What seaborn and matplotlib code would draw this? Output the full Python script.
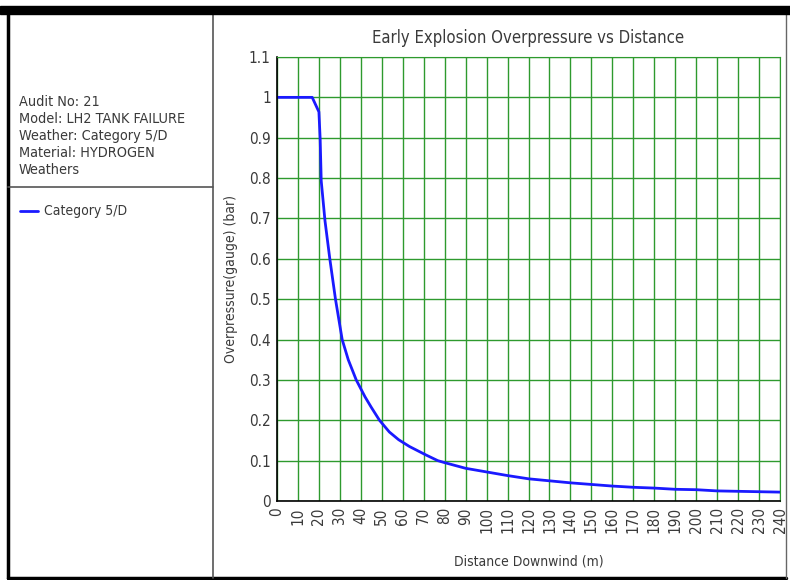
import numpy as np
import pandas as pd
import seaborn as sns
import matplotlib.pyplot as plt
from matplotlib.lines import Line2D
from matplotlib.patches import Rectangle
from matplotlib import font_manager

# values
distance = [0, 16.8, 20, 20.6, 21.1, 22.9, 25.2, 27.9, 31.1, 34, 37.8, 42, 45,
            48.9, 53.6, 58, 63.2, 71.1, 76.7, 80, 90, 100, 110, 120, 130, 140, 150,
            160, 170, 180, 190, 200, 210, 220, 230, 240]
overpressure = [1.0, 1.0, 0.964, 0.896, 0.793, 0.694, 0.6, 0.5, 0.4, 0.35, 0.3,
                0.258, 0.232, 0.2, 0.171, 0.152, 0.135, 0.114, 0.1,
                0.095, 0.081, 0.072, 0.063, 0.055, 0.050, 0.045, 0.041, 0.037, 0.034,
                0.032, 0.029, 0.028, 0.025, 0.024, 0.023, 0.022]
x_ticks = list(range(0, 241, 10))
y_ticks = [0, 0.1, 0.2, 0.3, 0.4, 0.5, 0.6, 0.7, 0.8, 0.9, 1, 1.1]
y_tick_labels = ["0", "0.1", "0.2", "0.3", "0.4", "0.5", "0.6", "0.7", "0.8", "0.9", "1", "1.1"]
info_lines = ["Audit No: 21", "Model: LH2 TANK FAILURE", "Weather: Category 5/D",
              "Material: HYDROGEN", "Weathers"]
series_name = "Category 5/D"

df = pd.DataFrame({"Distance": distance, "Overpressure": overpressure})

sns.set_style("white")
names = {f.name for f in font_manager.fontManager.ttflist}
if "Liberation Sans Narrow" in names:
    plt.rcParams['font.family'] = ['Liberation Sans Narrow', 'DejaVu Sans']
else:
    plt.rcParams['font.family'] = ['DejaVu Sans']
    plt.rcParams['font.stretch'] = 'condensed'

W, H = 790, 580
fig = plt.figure(figsize=(W / 100, H / 100), dpi=100)

def fx(px):
    return px / W

def fy(py):
    return 1 - py / H

grey = "#3a3a3a"
green = "#2e9a2e"
blue = "#1a1aff"

# outer frame and left panel
fig.patches.append(Rectangle((fx(0), fy(14)), 1, fy(6) - fy(14), transform=fig.transFigure,
                             color="black", zorder=5))
fig.lines.append(Line2D([fx(8), fx(8)], [fy(14), fy(578)], transform=fig.transFigure,
                        color="black", lw=2.5))
fig.lines.append(Line2D([fx(8), fx(786)], [fy(578), fy(578)], transform=fig.transFigure,
                        color="black", lw=2.5))
fig.lines.append(Line2D([fx(786), fx(786)], [fy(14), fy(578)], transform=fig.transFigure,
                        color="#666666", lw=1))
fig.lines.append(Line2D([fx(213), fx(213)], [fy(14), fy(578)], transform=fig.transFigure,
                        color="#555555", lw=1.2))
fig.lines.append(Line2D([fx(8), fx(213)], [fy(187), fy(187)], transform=fig.transFigure,
                        color="#555555", lw=1.2))

for i, line in enumerate(info_lines):
    fig.text(fx(19), fy(102 + i * 17), line, fontsize=10.4, color=grey, va="center")

fig.lines.append(Line2D([fx(20), fx(38)], [fy(211), fy(211)], transform=fig.transFigure,
                        color=blue, lw=2))
fig.text(fx(44), fy(211), series_name, fontsize=10, color=grey, va="center")

# chart
ax = fig.add_axes([fx(277), fy(501), fx(780) - fx(277), fy(57) - fy(501)])
sns.lineplot(data=df, x="Distance", y="Overpressure", ax=ax, color=blue, lw=2)
ax.set_xlim(0, 240)
ax.set_ylim(0, 1.1)
ax.set_xticks(x_ticks)
ax.set_xticklabels([str(t) for t in x_ticks], rotation=90)
ax.set_yticks(y_ticks)
ax.set_yticklabels(y_tick_labels)
ax.grid(True, color=green, lw=1)
ax.set_axisbelow(True)
for side in ["top", "right"]:
    ax.spines[side].set_color(green)
for side in ["left", "bottom"]:
    ax.spines[side].set_color("black")
    ax.spines[side].set_linewidth(1.2)
ax.tick_params(axis="both", direction="inout", length=5, width=1, colors=grey,
               labelsize=11, pad=2)
ax.tick_params(axis="y", color=green)
ax.set_xlabel("Distance Downwind (m)", fontsize=10, color=grey, labelpad=15)
ax.set_ylabel("Overpressure(gauge) (bar)", fontsize=10, color=grey, labelpad=8)
ax.set_title("Early Explosion Overpressure vs Distance", fontsize=12, color=grey, pad=10)

fig.savefig("out.png", dpi=100)
